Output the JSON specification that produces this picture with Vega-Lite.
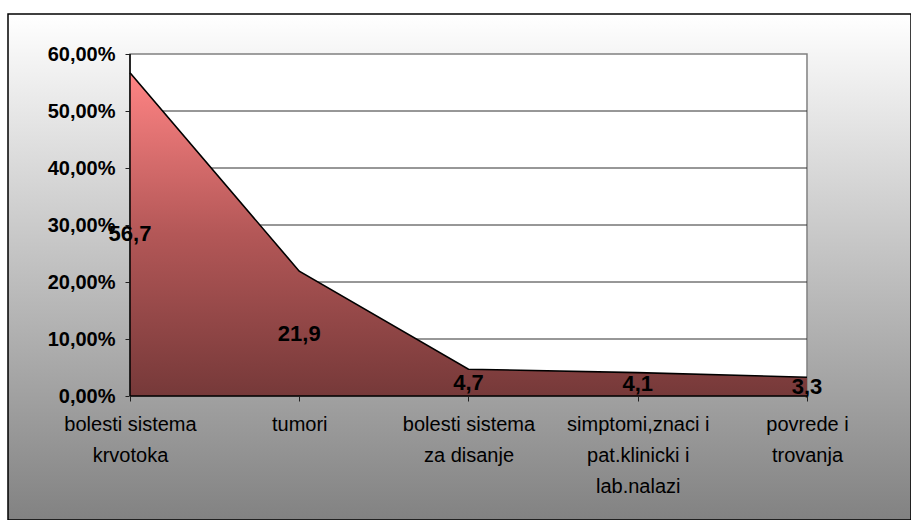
{
  "$schema": "https://vega.github.io/schema/vega-lite/v6.json",
  "width": 903,
  "height": 506,
  "autosize": {"type": "none"},
  "padding": {"left": 8, "top": 14, "right": 0, "bottom": 0},
  "background": "white",
  "datasets": {
    "main": [
      {"cat": "bolesti sistema|krvotoka", "v": 56.7},
      {"cat": "tumori", "v": 21.9},
      {"cat": "bolesti sistema|za disanje", "v": 4.7},
      {"cat": "simptomi,znaci i|pat.klinicki i|lab.nalazi", "v": 4.1},
      {"cat": "povrede i|trovanja", "v": 3.3}
    ],
    "grid": [
      {"cat": "bolesti sistema|krvotoka", "cat2": "povrede i|trovanja", "v": 10},
      {"cat": "bolesti sistema|krvotoka", "cat2": "povrede i|trovanja", "v": 20},
      {"cat": "bolesti sistema|krvotoka", "cat2": "povrede i|trovanja", "v": 30},
      {"cat": "bolesti sistema|krvotoka", "cat2": "povrede i|trovanja", "v": 40},
      {"cat": "bolesti sistema|krvotoka", "cat2": "povrede i|trovanja", "v": 50}
    ],
    "plot": [
      {"cat": "bolesti sistema|krvotoka", "cat2": "povrede i|trovanja", "v": 0, "v2": 60}
    ]
  },
  "encoding": {
    "x": {"field": "cat", "type": "nominal", "sort": null,
          "scale": {"type": "point", "domain": ["bolesti sistema|krvotoka", "tumori", "bolesti sistema|za disanje", "simptomi,znaci i|pat.klinicki i|lab.nalazi", "povrede i|trovanja"], "padding": 0.6677, "align": 0.5398},
          "axis": {"title": null, "domain": false, "grid": false, "offset": -124, "tickSize": 5, "tickColor": "#202020",
                   "labelAngle": 0, "labelAlign": "center", "labelBaseline": "top", "labelPadding": 13,
                   "labelFont": "Liberation Sans", "labelFontSize": 20, "labelColor": "black", "labelLineHeight": 31,
                   "labelOverlap": false, "labelBound": false,
                   "labelExpr": "split(datum.label, '|')"}}
  },
  "resolve": {"scale": {"y": "independent"}},
  "layer": [
    {
      "data": {"name": "plot"},
      "mark": {"type": "rect", "fill": "white", "stroke": "#808080", "strokeWidth": 1.5},
      "encoding": {
        "x2": {"field": "cat2"},
        "y": {"field": "v", "type": "quantitative", "axis": null, "scale": {"domain": [-21.754, 67.018], "nice": false, "zero": false}},
        "y2": {"field": "v2"}
      }
    },
    {
      "data": {"name": "grid"},
      "mark": {"type": "rule", "color": "#303030", "strokeWidth": 1},
      "encoding": {
        "x2": {"field": "cat2"},
        "y": {"field": "v", "type": "quantitative", "axis": null, "scale": {"domain": [-21.754, 67.018], "nice": false, "zero": false}}
      }
    },
    {
      "data": {"name": "main"},
      "mark": {
        "type": "area",
        "interpolate": "linear",
        "opacity": 1,
        "fillOpacity": 1,
        "color": {
          "gradient": "linear",
          "x1": 0, "y1": 0, "x2": 0, "y2": 1,
          "stops": [
            {"offset": 0, "color": "#ff8484"},
            {"offset": 0.5, "color": "#b35757"},
            {"offset": 1, "color": "#763939"}
          ]
        },
        "line": {"color": "black", "strokeWidth": 1.6}
      },
      "encoding": {
        "y": {"field": "v", "type": "quantitative", "scale": {"domain": [-21.754, 67.018], "nice": false, "zero": false},
              "axis": {"title": null, "domain": false, "grid": false, "offset": -122, "values": [0, 10, 20, 30, 40, 50, 60],
                       "tickSize": 5, "tickColor": "#202020", "format": ".2f", "labelExpr": "datum.label + '%'",
                       "labelFont": "Liberation Sans", "labelFontSize": 20, "labelFontWeight": "bold", "labelColor": "black",
                       "labelPadding": 10, "labelOverlap": false, "labelBound": false}},
        "y2": {"datum": 0}
      }
    },
    {
      "data": {"name": "plot"},
      "mark": {"type": "rule", "color": "black", "strokeWidth": 1.5},
      "encoding": {
        "y": {"field": "v", "type": "quantitative", "axis": null, "scale": {"domain": [-21.754, 67.018], "nice": false, "zero": false}},
        "y2": {"field": "v2"}
      }
    },
    {
      "data": {"name": "plot"},
      "mark": {"type": "rule", "color": "black", "strokeWidth": 1.5},
      "encoding": {
        "x2": {"field": "cat2"},
        "y": {"field": "v", "type": "quantitative", "axis": null, "scale": {"domain": [-21.754, 67.018], "nice": false, "zero": false}}
      }
    },
    {
      "data": {"name": "main"},
      "mark": {"type": "text", "font": "Liberation Sans", "fontSize": 22, "fontWeight": "bold", "color": "black", "align": "center", "baseline": "middle"},
      "encoding": {
        "y": {"field": "v", "type": "quantitative", "axis": null, "scale": {"domain": [-43.509, 134.035], "nice": false, "zero": false}},
        "text": {"field": "v", "type": "quantitative", "format": ".1f"}
      }
    }
  ],
  "config": {
    "locale": {"number": {"decimal": ",", "thousands": ".", "grouping": [3], "currency": ["", ""]}},
    "view": {
      "fill": {
        "gradient": "linear",
        "x1": 0, "y1": 0, "x2": 0, "y2": 1,
        "stops": [
          {"offset": 0, "color": "#ffffff"},
          {"offset": 1, "color": "#828282"}
        ]
      },
      "stroke": "black",
      "strokeWidth": 1.5
    }
  }
}
